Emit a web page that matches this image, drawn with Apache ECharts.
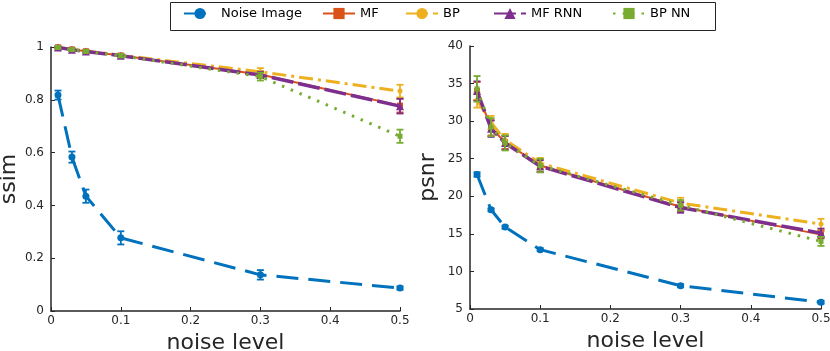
<!DOCTYPE html>
<html>
<head>
<meta charset="utf-8">
<script src="https://cdn.jsdelivr.net/npm/echarts@6/dist/echarts.min.js"></script>
<style>
  html, body { margin: 0; padding: 0; background: #fff; }
  #main { width: 830px; height: 351px; }
</style>
</head>
<body>
<div id="main"></div>
<script>
// noise levels (x)
var noiseLevels = [0.01, 0.03, 0.05, 0.1, 0.3, 0.5];
var seriesNames = ['Noise Image', 'MF', 'BP', 'MF RNN', 'BP NN'];

// ssim values
var ssimNoise = [0.818, 0.583, 0.435, 0.277, 0.137, 0.087];
var ssimMF    = [0.999, 0.991, 0.984, 0.968, 0.896, 0.778];
var ssimBP    = [0.999, 0.991, 0.985, 0.969, 0.906, 0.833];
var ssimMFRNN = [0.998, 0.990, 0.983, 0.967, 0.894, 0.776];
var ssimBPNN  = [0.998, 0.990, 0.983, 0.967, 0.888, 0.662];
// ssim error (half width)
var ssimNoiseErr = [0.017, 0.021, 0.025, 0.025, 0.018, 0.006];
var ssimMFErr    = [0.004, 0.004, 0.004, 0.005, 0.012, 0.026];
var ssimBPErr    = [0.004, 0.004, 0.004, 0.005, 0.014, 0.024];
var ssimMFRNNErr = [0.004, 0.004, 0.004, 0.005, 0.012, 0.028];
var ssimBPNNErr  = [0.004, 0.004, 0.004, 0.006, 0.015, 0.025];

// psnr values
var psnrNoise = [22.9, 18.2, 15.9, 12.9, 8.1, 5.9];
var psnrMF    = [34.0, 29.1, 27.2, 24.1, 18.6, 14.9];
var psnrBP    = [32.8, 29.8, 27.5, 24.4, 19.1, 16.3];
var psnrMFRNN = [34.0, 29.0, 27.1, 24.0, 18.5, 15.1];
var psnrBPNN  = [34.3, 29.2, 27.1, 24.1, 18.8, 14.0];
// psnr error (half width)
var psnrNoiseErr = [0.3, 0.2, 0.2, 0.2, 0.2, 0.2];
var psnrMFErr    = [1.2, 1.0, 0.9, 0.8, 0.6, 0.5];
var psnrBPErr    = [1.0, 0.9, 0.8, 0.7, 0.7, 0.7];
var psnrMFRNNErr = [1.3, 1.1, 0.9, 0.8, 0.7, 0.6];
var psnrBPNNErr  = [1.7, 1.2, 1.0, 0.9, 0.7, 0.6];

var colors = ['#0072BD', '#D95319', '#EDB120', '#7E2F8E', '#77AC30'];
var textColor = '#262626';
var font = 'DejaVu Sans';

var chart = echarts.init(document.getElementById('main'));

// looks of each series
var looks = [
  { lineType: [22, 10], width: 3, symbol: 'circle', size: 7 },
  { lineType: 'solid', width: 2, symbol: 'rect', size: 6 },
  { lineType: [14, 5, 3, 5], width: 3, symbol: 'circle', size: 5 },
  { lineType: [22, 5], width: 3.5, symbol: 'triangle', size: 8 },
  { lineType: [2.5, 7], width: 3, symbol: 'rect', size: 5 }
];

function pairs(ys) {
  return noiseLevels.map(function (x, i) { return [x, ys[i]]; });
}
function errData(ys, es) {
  return noiseLevels.map(function (x, i) { return [x, ys[i] - es[i], ys[i] + es[i]]; });
}

function renderErr(params, api) {
  var x = api.value(0);
  var lo = api.coord([x, api.value(1)]);
  var hi = api.coord([x, api.value(2)]);
  var c = api.visual('color');
  var cap = 3.5;
  var st = { stroke: c, lineWidth: 1.8 };
  return {
    type: 'group',
    children: [
      { type: 'line', shape: { x1: lo[0], y1: lo[1], x2: hi[0], y2: hi[1] }, style: st },
      { type: 'line', shape: { x1: lo[0] - cap, y1: lo[1], x2: lo[0] + cap, y2: lo[1] }, style: st },
      { type: 'line', shape: { x1: hi[0] - cap, y1: hi[1], x2: hi[0] + cap, y2: hi[1] }, style: st }
    ]
  };
}

var series = [];
function addPanel(idx, vals, errs) {
  vals.forEach(function (ys, k) {
    var lk = looks[k];
    series.push({
      name: seriesNames[k] + ' err' + idx,
      type: 'custom',
      xAxisIndex: idx, yAxisIndex: idx,
      renderItem: renderErr,
      itemStyle: { color: colors[k] },
      data: errData(ys, errs[k]),
      z: 2 + k,
      silent: true
    });
    series.push({
      name: seriesNames[k],
      type: 'line',
      xAxisIndex: idx, yAxisIndex: idx,
      data: pairs(ys),
      symbol: lk.symbol,
      symbolSize: lk.size,
      showAllSymbol: true,
      itemStyle: { color: colors[k] },
      lineStyle: { color: colors[k], width: lk.width, type: lk.lineType },
      z: 2 + k,
      animation: false
    });
  });
}
addPanel(0, [ssimNoise, ssimMF, ssimBP, ssimMFRNN, ssimBPNN],
  [ssimNoiseErr, ssimMFErr, ssimBPErr, ssimMFRNNErr, ssimBPNNErr]);
addPanel(1, [psnrNoise, psnrMF, psnrBP, psnrMFRNN, psnrBPNN],
  [psnrNoiseErr, psnrMFErr, psnrBPErr, psnrMFRNNErr, psnrBPNNErr]);

function xAxis(gi) {
  return {
    type: 'value', gridIndex: gi, min: 0, max: 0.5, interval: 0.1,
    name: 'noise level', nameLocation: 'middle', nameGap: 20,
    nameTextStyle: { fontFamily: font, fontSize: 22, color: textColor },
    axisLine: { onZero: false, lineStyle: { color: textColor, width: 1.5 } },
    axisTick: { inside: true, length: 4, lineStyle: { color: textColor } },
    axisLabel: { fontFamily: font, fontSize: 12, color: textColor, margin: 4 },
    splitLine: { show: false }
  };
}
function yAxis(gi, name, min, max, step) {
  return {
    type: 'value', gridIndex: gi, min: min, max: max, interval: step,
    name: name, nameLocation: 'middle', nameGap: 31, nameRotate: 90,
    nameTextStyle: { fontFamily: font, fontSize: 22, color: textColor },
    axisLine: { show: true, onZero: false, lineStyle: { color: textColor, width: 1.5 } },
    axisTick: { show: true, inside: true, length: 4, lineStyle: { color: textColor } },
    axisLabel: { fontFamily: font, fontSize: 12, color: textColor, margin: 7 },
    splitLine: { show: false }
  };
}

var legendLefts = [183, 322, 405, 493, 612];
var legends = seriesNames.map(function (n, k) {
  return {
    data: [n], left: legendLefts[k], top: 7,
    itemWidth: 32, itemHeight: 14, padding: 0,
    textStyle: { fontFamily: font, fontSize: 13, color: '#000' },
    selectedMode: false
  };
});

chart.setOption({
  animation: false,
  backgroundColor: '#fff',
  color: colors,
  legend: legends,
  graphic: [{
    type: 'rect', left: 168, top: 0,
    shape: { width: 545, height: 28 },
    style: { fill: 'none', stroke: textColor, lineWidth: 1 },
    silent: true
  }],
  grid: [
    { left: 51, top: 47, width: 349, height: 264, outerBoundsMode: 'none', containLabel: false },
    { left: 470, top: 46, width: 351, height: 263, outerBoundsMode: 'none', containLabel: false }
  ],
  xAxis: [xAxis(0), xAxis(1)],
  yAxis: [yAxis(0, 'ssim', 0, 1, 0.2), yAxis(1, 'psnr', 5, 40, 5)],
  series: series
});
</script>
</body>
</html>
